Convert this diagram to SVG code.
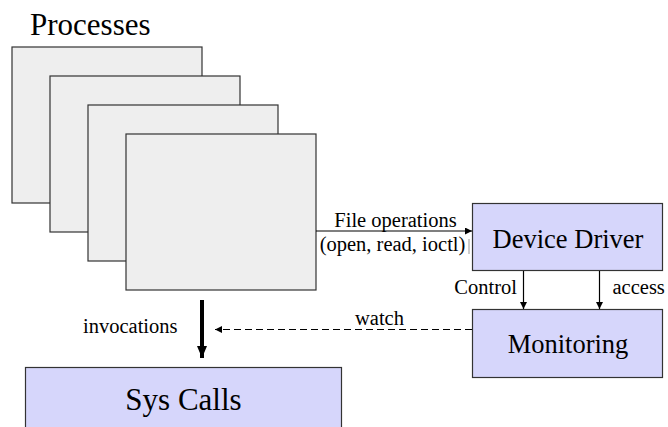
<svg xmlns="http://www.w3.org/2000/svg" width="668" height="427" viewBox="0 0 668 427">
<defs>
<style>
text{font-family:'Liberation Serif','Times New Roman',serif;fill:#000}
.proc{fill:#eeeeee;stroke:#333;stroke-width:1.2}
.box{fill:#d6d6fb;stroke:#333;stroke-width:1.2}
.big{font-size:31px}
.mid{font-size:26.5px;text-anchor:middle}
.lbl{font-size:20.5px}
.thin{stroke:#000;stroke-width:1.2;fill:none}
</style>
<marker id="ah" viewBox="0 0 10 10" refX="10" refY="5" markerWidth="7" markerHeight="7" markerUnits="userSpaceOnUse" orient="auto"><path d="M0,0 L10,5 L0,10 Z" fill="#000"/></marker>
<marker id="ahb" viewBox="0 0 10 10" refX="10" refY="5" markerWidth="12" markerHeight="10" markerUnits="userSpaceOnUse" orient="auto" preserveAspectRatio="none"><path d="M0,0 L10,5 L0,10 Z" fill="#000"/></marker>
</defs>
<rect width="668" height="427" fill="#fff"/>
<g id="processes">
<text class="big" x="30" y="35">Processes</text>
<rect class="proc" x="12" y="47" width="190" height="156"/>
<rect class="proc" x="50" y="76" width="190" height="156"/>
<rect class="proc" x="88" y="105" width="190" height="156"/>
<rect class="proc" x="126" y="134" width="190" height="156"/>
</g>
<g id="device-driver">
<rect class="box" x="472.5" y="203.5" width="190" height="67"/>
<text class="mid" x="568" y="247.5">Device Driver</text>
</g>
<g id="monitoring">
<rect class="box" x="472.5" y="309.5" width="190" height="68"/>
<text class="mid" x="568" y="353">Monitoring</text>
</g>
<g id="sys-calls">
<rect class="box" x="25.5" y="367.5" width="316" height="70"/>
<text class="big" x="183.5" y="410" text-anchor="middle">Sys Calls</text>
</g>
<g id="connectors">
<line class="thin" x1="316" y1="231" x2="472" y2="231" marker-end="url(#ah)"/>
<text class="lbl" x="395.5" y="226.5" text-anchor="middle">File operations</text>
<text class="lbl" x="392.5" y="251" text-anchor="middle">(open, read, ioctl)</text>
<line x1="469" y1="239" x2="469" y2="254" stroke="#999" stroke-width="1"/>
<line class="thin" x1="523.5" y1="271" x2="523.5" y2="309" marker-end="url(#ah)"/>
<text class="lbl" x="517" y="293.5" text-anchor="end">Control</text>
<line class="thin" x1="599.5" y1="271" x2="599.5" y2="309" marker-end="url(#ah)"/>
<text class="lbl" x="612.5" y="293.5">access</text>
<line x1="202" y1="300" x2="202" y2="358" stroke="#000" stroke-width="4" marker-end="url(#ahb)"/>
<text class="lbl" x="83" y="333">invocations</text>
<line x1="472" y1="329.5" x2="215" y2="329.5" stroke="#000" stroke-width="1.2" stroke-dasharray="7 4" marker-end="url(#ah)"/>
<text class="lbl" x="355" y="325">watch</text>
</g>
</svg>
